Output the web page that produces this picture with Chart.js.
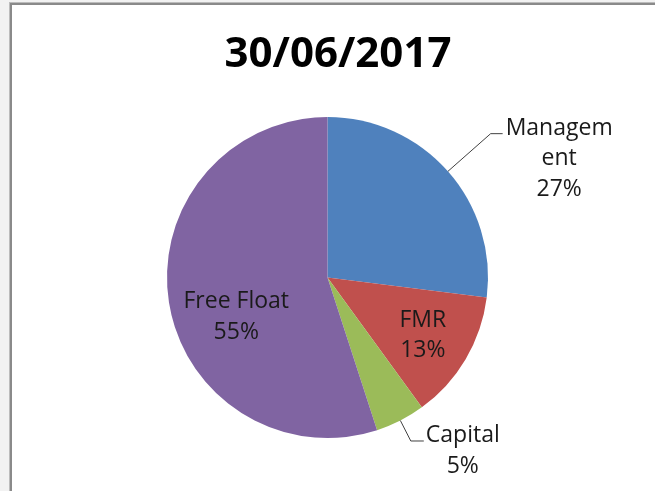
<!DOCTYPE html>
<html><head><meta charset="utf-8">
<script src="https://cdn.jsdelivr.net/npm/chart.js@4/dist/chart.umd.min.js"></script>
<style>
html,body{margin:0;padding:0;width:655px;height:491px;overflow:hidden;background:#f2f2f2;}
#frame1{position:absolute;left:9px;top:2px;width:700px;height:600px;border-left:1px solid #bcbcbc;border-top:1px solid #bcbcbc;}
#frame2{position:absolute;left:0;top:0;right:0;bottom:0;border-left:2px solid #8a8a8a;border-top:2px solid #8a8a8a;background:#fff;}
canvas{position:absolute;left:0;top:0;}
</style></head><body>
<div id="frame1"><div id="frame2"></div></div>
<canvas id="c" width="655" height="491"></canvas>
<script>
const TITLE = '30/06/2017';
const categories = ['Management', 'FMR', 'Capital', 'Free Float'];
const shares = [27, 13, 5, 55];
const wrappedNames = [['Managem', 'ent'], ['FMR'], ['Capital'], ['Free Float']];
const sliceColors = ['#4F81BD', '#C0504D', '#9BBB59', '#8064A2'];

// label placement style (not data)
const labelPlacement = [
  {mode: 'outside', leaderOut: 57, leaderRun: 12, gap: 3, attach: 7},
  {mode: 'inside', radius: 0.69, shift: 0},
  {mode: 'outside', leaderOut: 23, leaderRun: 13, gap: 2, attach: 7},
  {mode: 'inside', radius: 0.615, shift: -13.4}
];

const LABEL_FONT_SIZE = 23;
const LINE_H = 30.5;

const titlePlugin = {
  id: 'excelTitle',
  afterDraw(chart) {
    const ctx = chart.ctx;
    ctx.save();
    ctx.font = 'bold 42px "Open Sans"';
    ctx.fillStyle = '#000';
    ctx.textAlign = 'center';
    ctx.textBaseline = 'alphabetic';
    ctx.fillText(TITLE, 338, 67);
    ctx.restore();
  }
};

const sliceLabels = {
  id: 'sliceLabels',
  afterDatasetsDraw(chart) {
    const ctx = chart.ctx;
    const meta = chart.getDatasetMeta(0);
    const total = shares.reduce((a, b) => a + b, 0);
    ctx.save();
    ctx.font = LABEL_FONT_SIZE + 'px "Open Sans"';
    ctx.fillStyle = '#1a1a1a';
    ctx.strokeStyle = '#404040';
    ctx.lineWidth = 1;
    meta.data.forEach((arc, i) => {
      const p = arc.getProps(['x', 'y', 'startAngle', 'endAngle', 'outerRadius'], true);
      const mid = (p.startAngle + p.endAngle) / 2;
      const lines = [...wrappedNames[i], Math.round(shares[i] / total * 100) + '%'];
      const cfg = labelPlacement[i];
      let cx, firstY;
      if (cfg.mode === 'outside') {
        const sx = p.x + Math.cos(mid) * p.outerRadius;
        const sy = p.y + Math.sin(mid) * p.outerRadius;
        const ex = p.x + Math.cos(mid) * (p.outerRadius + cfg.leaderOut);
        const ey = p.y + Math.sin(mid) * (p.outerRadius + cfg.leaderOut);
        const dir = Math.cos(mid) >= 0 ? 1 : -1;
        const hx = ex + dir * cfg.leaderRun;
        ctx.beginPath();
        ctx.moveTo(sx, sy);
        ctx.lineTo(ex, ey);
        ctx.lineTo(hx, ey);
        ctx.stroke();
        const w = Math.max(...lines.map(l => ctx.measureText(l).width));
        cx = hx + dir * (cfg.gap + w / 2);
        firstY = ey - cfg.attach;
      } else {
        const a = mid + cfg.shift * Math.PI / 180;
        const r = p.outerRadius * cfg.radius;
        cx = p.x + Math.cos(a) * r;
        const by = p.y + Math.sin(a) * r;
        firstY = by - (lines.length - 1) * LINE_H / 2;
      }
      ctx.textAlign = 'center';
      ctx.textBaseline = 'alphabetic';
      lines.forEach((l, k) => ctx.fillText(l, cx, firstY + k * LINE_H + 0.357 * LABEL_FONT_SIZE));
    });
    ctx.restore();
  }
};

new Chart(document.getElementById('c'), {
  type: 'pie',
  data: {
    labels: categories,
    datasets: [{
      data: shares,
      backgroundColor: sliceColors,
      borderWidth: 0
    }]
  },
  options: {
    responsive: false,
    animation: false,
    devicePixelRatio: 1,
    layout: {padding: {left: 167, right: 167, top: 117, bottom: 53}},
    plugins: {
      legend: {display: false},
      title: {display: false},
      tooltip: {enabled: false}
    }
  },
  plugins: [sliceLabels, titlePlugin]
});
</script>
</body></html>
